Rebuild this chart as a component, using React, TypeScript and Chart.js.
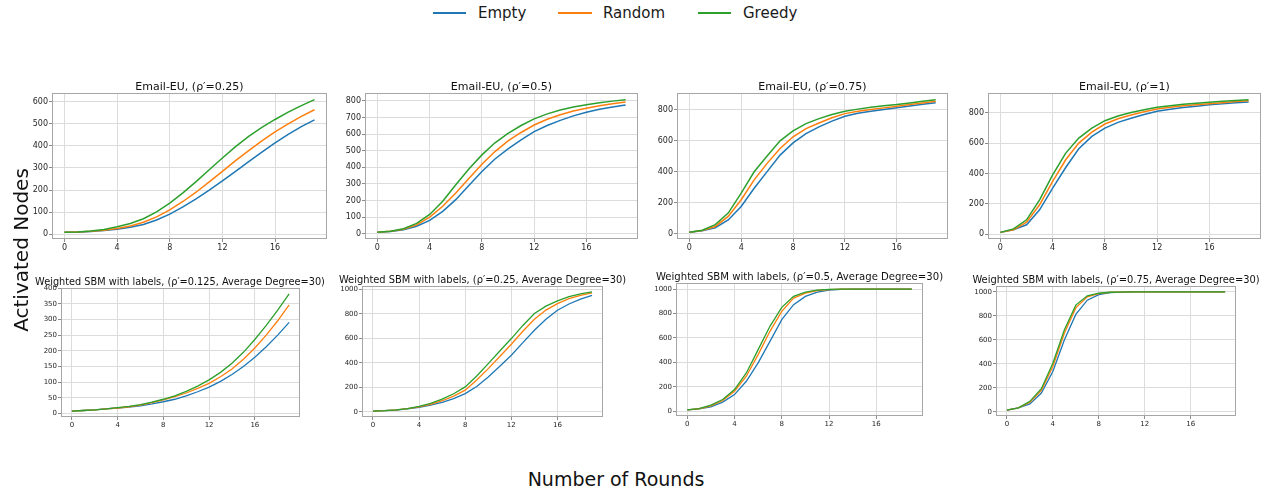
import React, { useEffect, useRef } from "react";
import { Chart, registerables } from "chart.js";

Chart.register(...registerables);

const FONT = "DejaVu Sans";
const BLUE = "#1f77b4";
const ORANGE = "#ff7f0e";
const GREEN = "#2ca02c";

const seriesNames = ["Empty", "Random", "Greedy"];
const rounds = [0, 1, 2, 3, 4, 5, 6, 7, 8, 9, 10, 11, 12, 13, 14, 15, 16, 17, 18, 19];
const xTicks = [0, 4, 8, 12, 16];

// Email-EU, rho' = 0.25
const eu025Empty = [8, 9, 12, 16, 22, 31, 44, 64, 91, 124, 160, 200, 242, 285, 329, 372, 414, 452, 488, 518];
const eu025Random = [8, 10, 13, 18, 26, 37, 54, 78, 110, 148, 190, 237, 285, 333, 379, 423, 464, 500, 534, 564];
const eu025Greedy = [8, 10, 14, 21, 33, 48, 70, 101, 141, 187, 238, 292, 345, 397, 443, 484, 520, 553, 583, 610];
const eu025YTicks = [0, 100, 200, 300, 400, 500, 600];

// Email-EU, rho' = 0.5
const eu05Empty = [8, 13, 24, 45, 80, 135, 205, 290, 375, 450, 511, 566, 615, 652, 683, 710, 732, 750, 764, 776];
const eu05Random = [8, 14, 27, 53, 100, 165, 245, 333, 419, 495, 559, 610, 655, 690, 717, 740, 756, 771, 783, 794];
const eu05Greedy = [8, 15, 30, 62, 116, 195, 295, 390, 475, 548, 605, 652, 692, 722, 745, 763, 777, 789, 799, 808];
const eu05YTicks = [0, 100, 200, 300, 400, 500, 600, 700, 800];

// Email-EU, rho' = 0.75
const eu075Empty = [10, 20, 40, 90, 177, 294, 401, 507, 586, 646, 689, 726, 757, 776, 790, 801, 812, 823, 834, 844];
const eu075Random = [10, 22, 48, 113, 220, 348, 454, 550, 625, 678, 714, 747, 774, 789, 801, 811, 821, 832, 843, 853];
const eu075Greedy = [10, 24, 60, 134, 262, 400, 501, 599, 663, 710, 742, 768, 789, 803, 815, 824, 832, 843, 853, 864];
const eu075YTicks = [0, 200, 400, 600, 800];

// Email-EU, rho' = 1
const eu1Empty = [12, 29, 62, 161, 304, 440, 564, 645, 700, 738, 765, 790, 811, 825, 836, 845, 855, 861, 867, 872];
const eu1Random = [12, 29, 79, 194, 348, 491, 601, 674, 727, 762, 787, 808, 826, 838, 848, 855, 861, 868, 875, 881];
const eu1Greedy = [12, 35, 95, 227, 392, 535, 634, 700, 749, 780, 803, 821, 837, 848, 857, 864, 870, 877, 883, 888];
const eu1YTicks = [0, 200, 400, 600, 800];

// Weighted SBM, rho' = 0.125
const sbm0125Empty = [7, 9, 11, 14, 17, 20, 24, 30, 37, 45, 56, 69, 84, 102, 124, 150, 179, 213, 250, 291];
const sbm0125Random = [7, 9, 11, 14, 17, 21, 26, 34, 43, 53, 65, 80, 96, 117, 142, 173, 209, 250, 296, 347];
const sbm0125Greedy = [7, 9, 11, 14, 18, 22, 28, 36, 45, 56, 70, 87, 107, 131, 160, 195, 236, 281, 330, 382];
const sbm0125YTicks = [0, 50, 100, 150, 200, 250, 300, 350, 400];

// Weighted SBM, rho' = 0.25
const sbm025Empty = [7, 10, 15, 24, 38, 55, 78, 108, 149, 207, 285, 372, 462, 565, 666, 755, 829, 880, 920, 951];
const sbm025Random = [7, 10, 16, 26, 41, 62, 91, 129, 177, 260, 353, 452, 552, 658, 755, 830, 883, 924, 951, 970];
const sbm025Greedy = [7, 10, 16, 27, 46, 70, 104, 148, 204, 293, 394, 497, 598, 705, 802, 862, 905, 940, 963, 978];
const sbmYTicks = [0, 200, 400, 600, 800, 1000];

// Weighted SBM, rho' = 0.5
const sbm05Empty = [10, 19, 35, 74, 136, 245, 395, 572, 749, 872, 940, 975, 992, 997, 999, 1000, 1000, 1000, 1000, 1000];
const sbm05Random = [10, 20, 44, 87, 163, 286, 463, 654, 817, 926, 967, 988, 996, 999, 1000, 1000, 1000, 1000, 1000, 1000];
const sbm05Greedy = [10, 21, 49, 95, 177, 313, 504, 695, 850, 940, 975, 992, 998, 1000, 1000, 1000, 1000, 1000, 1000, 1000];

// Weighted SBM, rho' = 0.75
const sbm075Empty = [15, 33, 66, 157, 337, 599, 812, 931, 978, 994, 998, 1000, 1000, 1000, 1000, 1000, 1000, 1000, 1000, 1000];
const sbm075Random = [15, 33, 80, 180, 378, 655, 867, 959, 986, 997, 999, 1000, 1000, 1000, 1000, 1000, 1000, 1000, 1000, 1000];
const sbm075Greedy = [15, 34, 88, 193, 406, 682, 890, 967, 989, 997, 999, 1000, 1000, 1000, 1000, 1000, 1000, 1000, 1000, 1000];

type PanelSpec = {
  title: string;
  series: number[][];
  yTicks: number[];
  L: number; R: number; T: number; B: number;
  tx: number; ty: number; titleSize: number;
  tickSize: number; lw: number;
};

const panels: PanelSpec[] = [
  { title: "Email-EU, (ρ′=0.25)", series: [eu025Empty, eu025Random, eu025Greedy], yTicks: eu025YTicks,
    L: 52, R: 327, T: 93, B: 239, tx: 189.5, ty: 87.3, titleSize: 11, tickSize: 8, lw: 1.5 },
  { title: "Email-EU, (ρ′=0.5)", series: [eu05Empty, eu05Random, eu05Greedy], yTicks: eu05YTicks,
    L: 365, R: 638, T: 93, B: 239, tx: 501.5, ty: 87.3, titleSize: 11, tickSize: 8, lw: 1.5 },
  { title: "Email-EU, (ρ′=0.75)", series: [eu075Empty, eu075Random, eu075Greedy], yTicks: eu075YTicks,
    L: 677, R: 948, T: 93, B: 239, tx: 812.5, ty: 87.3, titleSize: 11, tickSize: 8, lw: 1.5 },
  { title: "Email-EU, (ρ′=1)", series: [eu1Empty, eu1Random, eu1Greedy], yTicks: eu1YTicks,
    L: 988, R: 1261, T: 93, B: 239, tx: 1124.5, ty: 87.3, titleSize: 11, tickSize: 8, lw: 1.5 },
  { title: "Weighted SBM with labels, (ρ′=0.125, Average Degree=30)", series: [sbm0125Empty, sbm0125Random, sbm0125Greedy], yTicks: sbm0125YTicks,
    L: 61, R: 300, T: 288, B: 417, tx: 180, ty: 282.7, titleSize: 9.75, tickSize: 7, lw: 1.3 },
  { title: "Weighted SBM with labels, (ρ′=0.25, Average Degree=30)", series: [sbm025Empty, sbm025Random, sbm025Greedy], yTicks: sbmYTicks,
    L: 362, R: 603, T: 286, B: 417, tx: 482.5, ty: 280, titleSize: 9.9, tickSize: 7, lw: 1.3 },
  { title: "Weighted SBM with labels, (ρ′=0.5, Average Degree=30)", series: [sbm05Empty, sbm05Random, sbm05Greedy], yTicks: sbmYTicks,
    L: 676, R: 923, T: 283, B: 416, tx: 799.5, ty: 277.3, titleSize: 10.1, tickSize: 7, lw: 1.3 },
  { title: "Weighted SBM with labels, (ρ′=0.75, Average Degree=30)", series: [sbm075Empty, sbm075Random, sbm075Greedy], yTicks: sbmYTicks,
    L: 996, R: 1236, T: 286, B: 416, tx: 1116, ty: 280, titleSize: 9.9, tickSize: 7, lw: 1.3 },
];

const colors = [BLUE, ORANGE, GREEN];

const framePlugin = {
  id: "frame",
  afterDraw(chart: any) {
    const { ctx, chartArea } = chart;
    const { left, top, right, bottom } = chartArea;
    ctx.save();
    ctx.strokeStyle = "#a6a6a6";
    ctx.lineWidth = 1;
    ctx.strokeRect(Math.round(left) + 0.5, Math.round(top) + 0.5, Math.round(right - left) - 1, Math.round(bottom - top) - 1);
    ctx.restore();
  },
};

const YW = 40, PT = 8, PR = 8, XH = 18;

function Panel({ p }: { p: PanelSpec }) {
  const ref = useRef<HTMLCanvasElement>(null);
  const w = p.R - p.L + YW + PR;
  const h = p.B - p.T + PT + XH;
  useEffect(() => {
    const all = ([] as number[]).concat(...p.series);
    const lo = Math.min(...all);
    const hi = Math.max(...all);
    const m = (hi - lo) * 0.05;
    const xlo = rounds[0], xhi = rounds[rounds.length - 1];
    const xm = (xhi - xlo) * 0.05;
    const tickFont = { family: FONT, size: p.tickSize };
    const grid = { color: "#dcdcdc", lineWidth: 1, tickColor: "#8c8c8c", tickLength: 3, drawTicks: true };
    const chart = new Chart(ref.current as HTMLCanvasElement, {
      type: "line",
      data: {
        datasets: p.series.map((s, k) => ({
          label: seriesNames[k],
          data: rounds.map((x, i) => ({ x, y: s[i] })),
          borderColor: colors[k],
          backgroundColor: colors[k],
          borderWidth: p.lw,
          pointRadius: 0,
          tension: 0,
          fill: false,
          order: 2 - k,
        })),
      },
      options: {
        animation: false,
        responsive: false,
        devicePixelRatio: 1,
        layout: { padding: { top: PT, right: PR, left: 0, bottom: 0 } },
        plugins: { legend: { display: false }, tooltip: { enabled: false }, title: { display: false } },
        scales: {
          x: {
            type: "linear",
            min: xlo - xm,
            max: xhi + xm,
            afterBuildTicks: (s: any) => { s.ticks = xTicks.map((v) => ({ value: v })); },
            afterFit: (s: any) => { s.height = XH; },
            grid,
            border: { display: false },
            ticks: { font: tickFont, color: "#262626", padding: 1, maxRotation: 0, autoSkip: false, callback: (v: any) => String(v) },
          },
          y: {
            type: "linear",
            min: lo - m,
            max: hi + m,
            afterBuildTicks: (s: any) => { s.ticks = p.yTicks.map((v) => ({ value: v })); },
            afterFit: (s: any) => { s.width = YW; },
            grid,
            border: { display: false },
            ticks: { font: tickFont, color: "#262626", padding: 1, autoSkip: false, callback: (v: any) => String(v) },
          },
        },
      } as any,
      plugins: [framePlugin],
    });
    return () => chart.destroy();
  }, []);
  return (
    <canvas
      ref={ref}
      width={w}
      height={h}
      style={{ position: "absolute", left: p.L - YW, top: p.T - PT, width: w, height: h }}
    />
  );
}

const legendItems = [
  { x1: 433, x2: 466, tx: 478 },
  { x1: 558, x2: 592, tx: 603 },
  { x1: 698, x2: 731, tx: 743 },
];

export default function App() {
  return (
    <div style={{ position: "absolute", left: 0, top: 0, width: 1270, height: 493, background: "#fff", overflow: "hidden", fontFamily: FONT }}>
      {legendItems.map((it, k) => (
        <React.Fragment key={k}>
          <div style={{ position: "absolute", left: it.x1, top: 12, width: it.x2 - it.x1, height: 2, background: colors[k] }} />
          <div style={{ position: "absolute", left: it.tx, top: 13 - 8, fontSize: 15, lineHeight: "16px", color: "#1a1a1a", whiteSpace: "nowrap" }}>
            {seriesNames[k]}
          </div>
        </React.Fragment>
      ))}
      {panels.map((p, k) => (
        <Panel key={k} p={p} />
      ))}
      {panels.map((p, k) => (
        <div
          key={"t" + k}
          style={{ position: "absolute", left: p.tx - 250, width: 500, top: p.ty - p.titleSize * 0.55, fontSize: p.titleSize, lineHeight: p.titleSize + "px", textAlign: "center", whiteSpace: "nowrap", color: "#111" }}
        >
          {p.title}
        </div>
      ))}
      <div style={{ position: "absolute", left: 616 - 150, width: 300, top: 479 - 11, fontSize: 19, lineHeight: "22px", textAlign: "center", color: "#111", whiteSpace: "nowrap" }}>
        Number of Rounds
      </div>
      <div style={{ position: "absolute", left: 21 - 100, top: 250 - 12, width: 200, height: 24, fontSize: 20, lineHeight: "24px", textAlign: "center", color: "#111", whiteSpace: "nowrap", transform: "rotate(-90deg)", transformOrigin: "50% 50%" }}>
        Activated Nodes
      </div>
    </div>
  );
}
